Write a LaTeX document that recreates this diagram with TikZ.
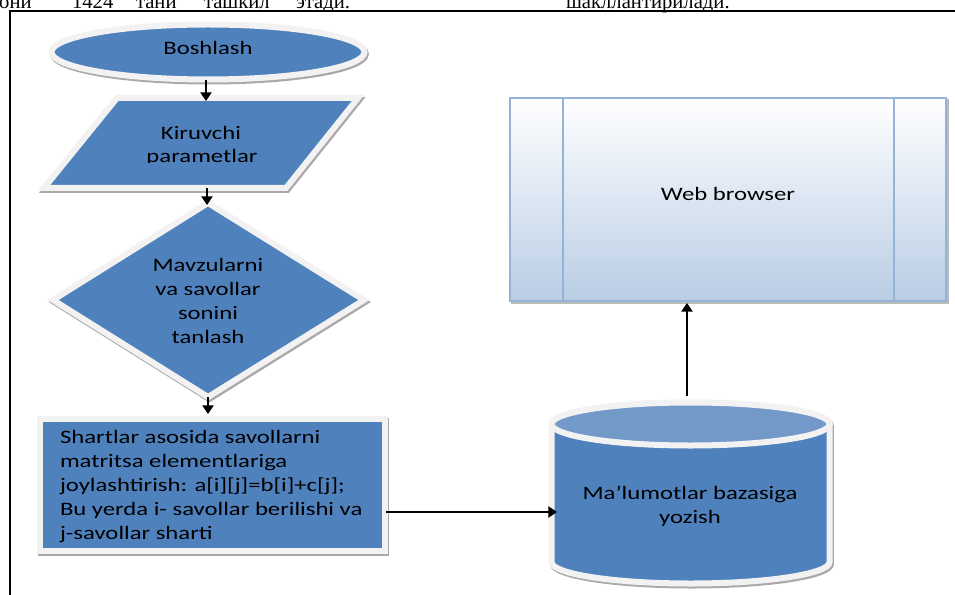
\documentclass[tikz,border=0pt]{standalone}
\usepackage{fontspec}
\setmainfont[FakeStretch=1.3]{Carlito}
\newfontfamily\topfont{Liberation Serif}
\usetikzlibrary{arrows.meta}
\definecolor{oblue}{HTML}{4F81BD}
\definecolor{otop}{HTML}{7399C9}
\definecolor{rimc}{HTML}{F2F2F2}
\definecolor{shdc}{HTML}{A9A9A9}
\definecolor{bbord}{HTML}{95B3D7}
\definecolor{bbot}{HTML}{B9CDE5}
\begin{document}
\begin{tikzpicture}[x=0.75pt,y=-0.75pt,
  every node/.style={inner sep=0pt, outer sep=0pt},
  lbl/.style={font=\fontsize{14.25pt}{18pt}\selectfont, text=black, anchor=base},
  lbll/.style={lbl, anchor=base west},
  toptxt/.style={font=\topfont\fontsize{15.5pt}{17pt}\selectfont, text=black, anchor=base west},
  shape3d/.style={fill=oblue, draw=rimc, line width=4.5pt,
    preaction={draw=shdc, line width=4.5pt, transform canvas={shift={(1pt,-1.5pt)}}}},
  arr/.style={line width=1.1pt, -{Triangle[width=8.5pt,length=6.5pt]}},
  frame/.style={line width=1.6pt}
]
\useasboundingbox (0,0) rectangle (955,595);
\clip (0,0) rectangle (955,595);

% clipped text line above the frame
\node[toptxt] (w1) at (-10,9) {сони};
\node[toptxt] (w2) at (72,9) {1424};
\node[toptxt] (w3) at (136,9) {тани};
\node[toptxt] (w4) at (204,9) {ташкил};
\node[toptxt] (w5) at (296,9) {этади.};
\node[toptxt] (w6) at (566,9) {шакллантирилади.};

% frame
\coordinate (fbl) at (10,600);
\coordinate (ftl) at (10,11);
\coordinate (ftr) at (960,11);
\draw[frame] (fbl) -- (ftl) -- (ftr);

% start ellipse
\path[shape3d] (208,52) ellipse [x radius=156.5, y radius=27.5];
\node[lbl] (tstart) at (208,55) {Boshlash};
\coordinate (startS) at (206,80);

% parallelogram
\path[shape3d] (117,98) -- (358,98) -- (286,188) -- (44,188) -- cycle;
\coordinate (paraN) at (206,101);
\coordinate (paraS) at (207,188);
\node[lbl] (tpar1) at (201,139.5) {Kiruvchi};
\begin{scope}
  \clip (0,0) rectangle (955,162.5);
  \node[lbl] (tpar2) at (202,163) {parametlar};
\end{scope}

% diamond
\path[shape3d] (208,203) -- (364,300) -- (208,397) -- (53,300) -- cycle;
\coordinate (diaN) at (207,205);
\coordinate (diaS) at (208,397);
\node[lbl] (td1) at (208,271.5) {Mavzularni};
\node[lbl] (td2) at (208,295.5) {va savollar};
\node[lbl] (td3) at (208,319.5) {sonini};
\node[lbl] (td4) at (208,343.5) {tanlash};

% process rectangle
\path[shape3d] (40,418.5) rectangle (384.5,551);
\coordinate (recN) at (208,414);
\coordinate (recE) at (386,512);
\node[lbll] (tr1) at (60,443) {Shartlar asosida savollarni};
\node[lbll] (tr2) at (60,467) {matritsa elementlariga};
\node[lbll] (tr3) at (60,491) {joylashtirish: a[i][j]=b[i]+c[j];};
\node[lbll] (tr4) at (60,515) {Bu yerda i- savollar berilishi va};
\node[lbll] (tr5) at (60,539) {j-savollar sharti};

% database cylinder
\path[shape3d] (551.5,424) -- (551.5,562)
  arc[start angle=180, end angle=0, x radius=139, y radius=21.5]
  -- (829.5,424)
  arc[start angle=0, end angle=-180, x radius=139, y radius=21.5] -- cycle;
\path[fill=otop, draw=rimc, line width=4.5pt] (690.5,424) ellipse [x radius=139, y radius=21.5];
\coordinate (dbW) at (557,512);
\coordinate (dbN) at (687,396);
\node[lbl] (tdb1) at (690,499) {Ma’lumotlar bazasiga};
\node[lbl] (tdb2) at (690,523) {yozish};

% web browser
\path[top color=white, bottom color=bbot, draw=bbord, line width=1.5pt,
  preaction={draw=shdc!80, line width=1.5pt, transform canvas={shift={(1.5pt,-1.5pt)}}}]
  (510,98) rectangle (946,301);
\coordinate (bl1t) at (563,98); \coordinate (bl1b) at (563,301);
\coordinate (bl2t) at (894,98); \coordinate (bl2b) at (894,301);
\draw[bbord, line width=1.5pt] (bl1t) -- (bl1b);
\draw[bbord, line width=1.5pt] (bl2t) -- (bl2b);
\coordinate (brS) at (687,303);
\node[lbl] (tweb) at (728,200.5) {Web browser};

% connectors
\draw[arr] (startS) -- (paraN);
\draw[arr] (paraS) -- (diaN);
\draw[arr] (diaS) -- (recN);
\draw[arr] (recE) -- (dbW);
\draw[arr] (dbN) -- (brS);
\end{tikzpicture}
\end{document}
